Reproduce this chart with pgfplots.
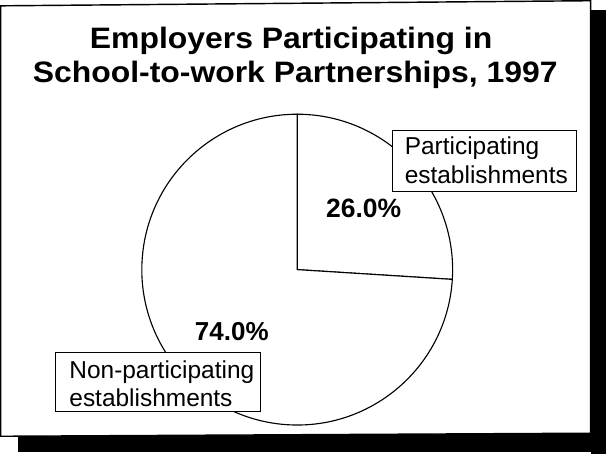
\documentclass[border=0pt]{standalone}
\usepackage{graphicx}
\usepackage{pgfplots}
\usepackage{pgfplotstable}
\usepackage{fontspec}
\setmainfont{Liberation Sans}
\pgfplotsset{compat=1.18}

\pgfplotstableread{
label value
Participating 26.0
Nonparticipating 74.0
}\piedata

\begin{document}
\begin{tikzpicture}
\pgfplotstablegetelem{0}{value}\of\piedata
\pgfmathsetmacro{\pa}{\pgfplotsretval}
\pgfplotstablegetelem{1}{value}\of\piedata
\pgfmathsetmacro{\pb}{\pgfplotsretval}
\pgfmathsetmacro{\angA}{90-3.6*\pa}
\pgfmathsetmacro{\angB}{\angA-3.6*\pb}
\begin{axis}[
  width=606bp, height=448bp, scale only axis,
  xmin=0, xmax=606, ymin=0, ymax=448, y dir=reverse,
  hide axis, clip=false, enlargelimits=false]
% shadow
\fill[black] (axis cs:589,14) rectangle (axis cs:604,448);
\fill[black] (axis cs:29,429) rectangle (axis cs:604,446);
% frame
\draw[line width=1.4bp, fill=white] (axis cs:12,10) -- (axis cs:589,5) -- (axis cs:589,428) -- (axis cs:12,431) -- cycle;
% title
\node[anchor=base, inner sep=0pt, font=\bfseries\fontsize{29}{33}\selectfont] at (axis cs:296,52) {\scalebox{1.08}[1]{Employers Participating in}};
\node[anchor=base, inner sep=0pt, font=\bfseries\fontsize{29}{33}\selectfont] at (axis cs:300,85) {\scalebox{1.08}[1]{School-to-work Partnerships, 1997}};
% pie
\draw[line width=1.1bp, fill=white] (axis cs:302,268) -- ++(90:152bp) arc[start angle=90, end angle=\angA, radius=152bp] -- cycle;
\draw[line width=1.1bp, fill=white] (axis cs:302,268) -- ++(\angA:152bp) arc[start angle=\angA, end angle=\angB, radius=152bp] -- cycle;
% percentages
\node[anchor=base, inner sep=0pt, font=\bfseries\fontsize{26}{29}\selectfont] at (axis cs:367,217) {26.0\%};
\node[anchor=base, inner sep=0pt, font=\bfseries\fontsize{25.5}{29}\selectfont] at (axis cs:238,337) {74.0\%};
% label boxes
\draw[line width=1bp, fill=white] (axis cs:395,132) rectangle (axis cs:575,192);
\node[anchor=base west, inner sep=0pt, font=\fontsize{24}{28}\selectfont] at (axis cs:407,155) {Participating};
\node[anchor=base west, inner sep=0pt, font=\fontsize{24}{28}\selectfont] at (axis cs:407,183.5) {establishments};
\draw[line width=1bp, fill=white] (axis cs:66,349) rectangle (axis cs:266,407);
\node[anchor=base west, inner sep=0pt, font=\fontsize{24}{28}\selectfont] at (axis cs:79,374) {Non-participating};
\node[anchor=base west, inner sep=0pt, font=\fontsize{24}{28}\selectfont] at (axis cs:79,402) {establishments};
\end{axis}
\end{tikzpicture}
\end{document}
